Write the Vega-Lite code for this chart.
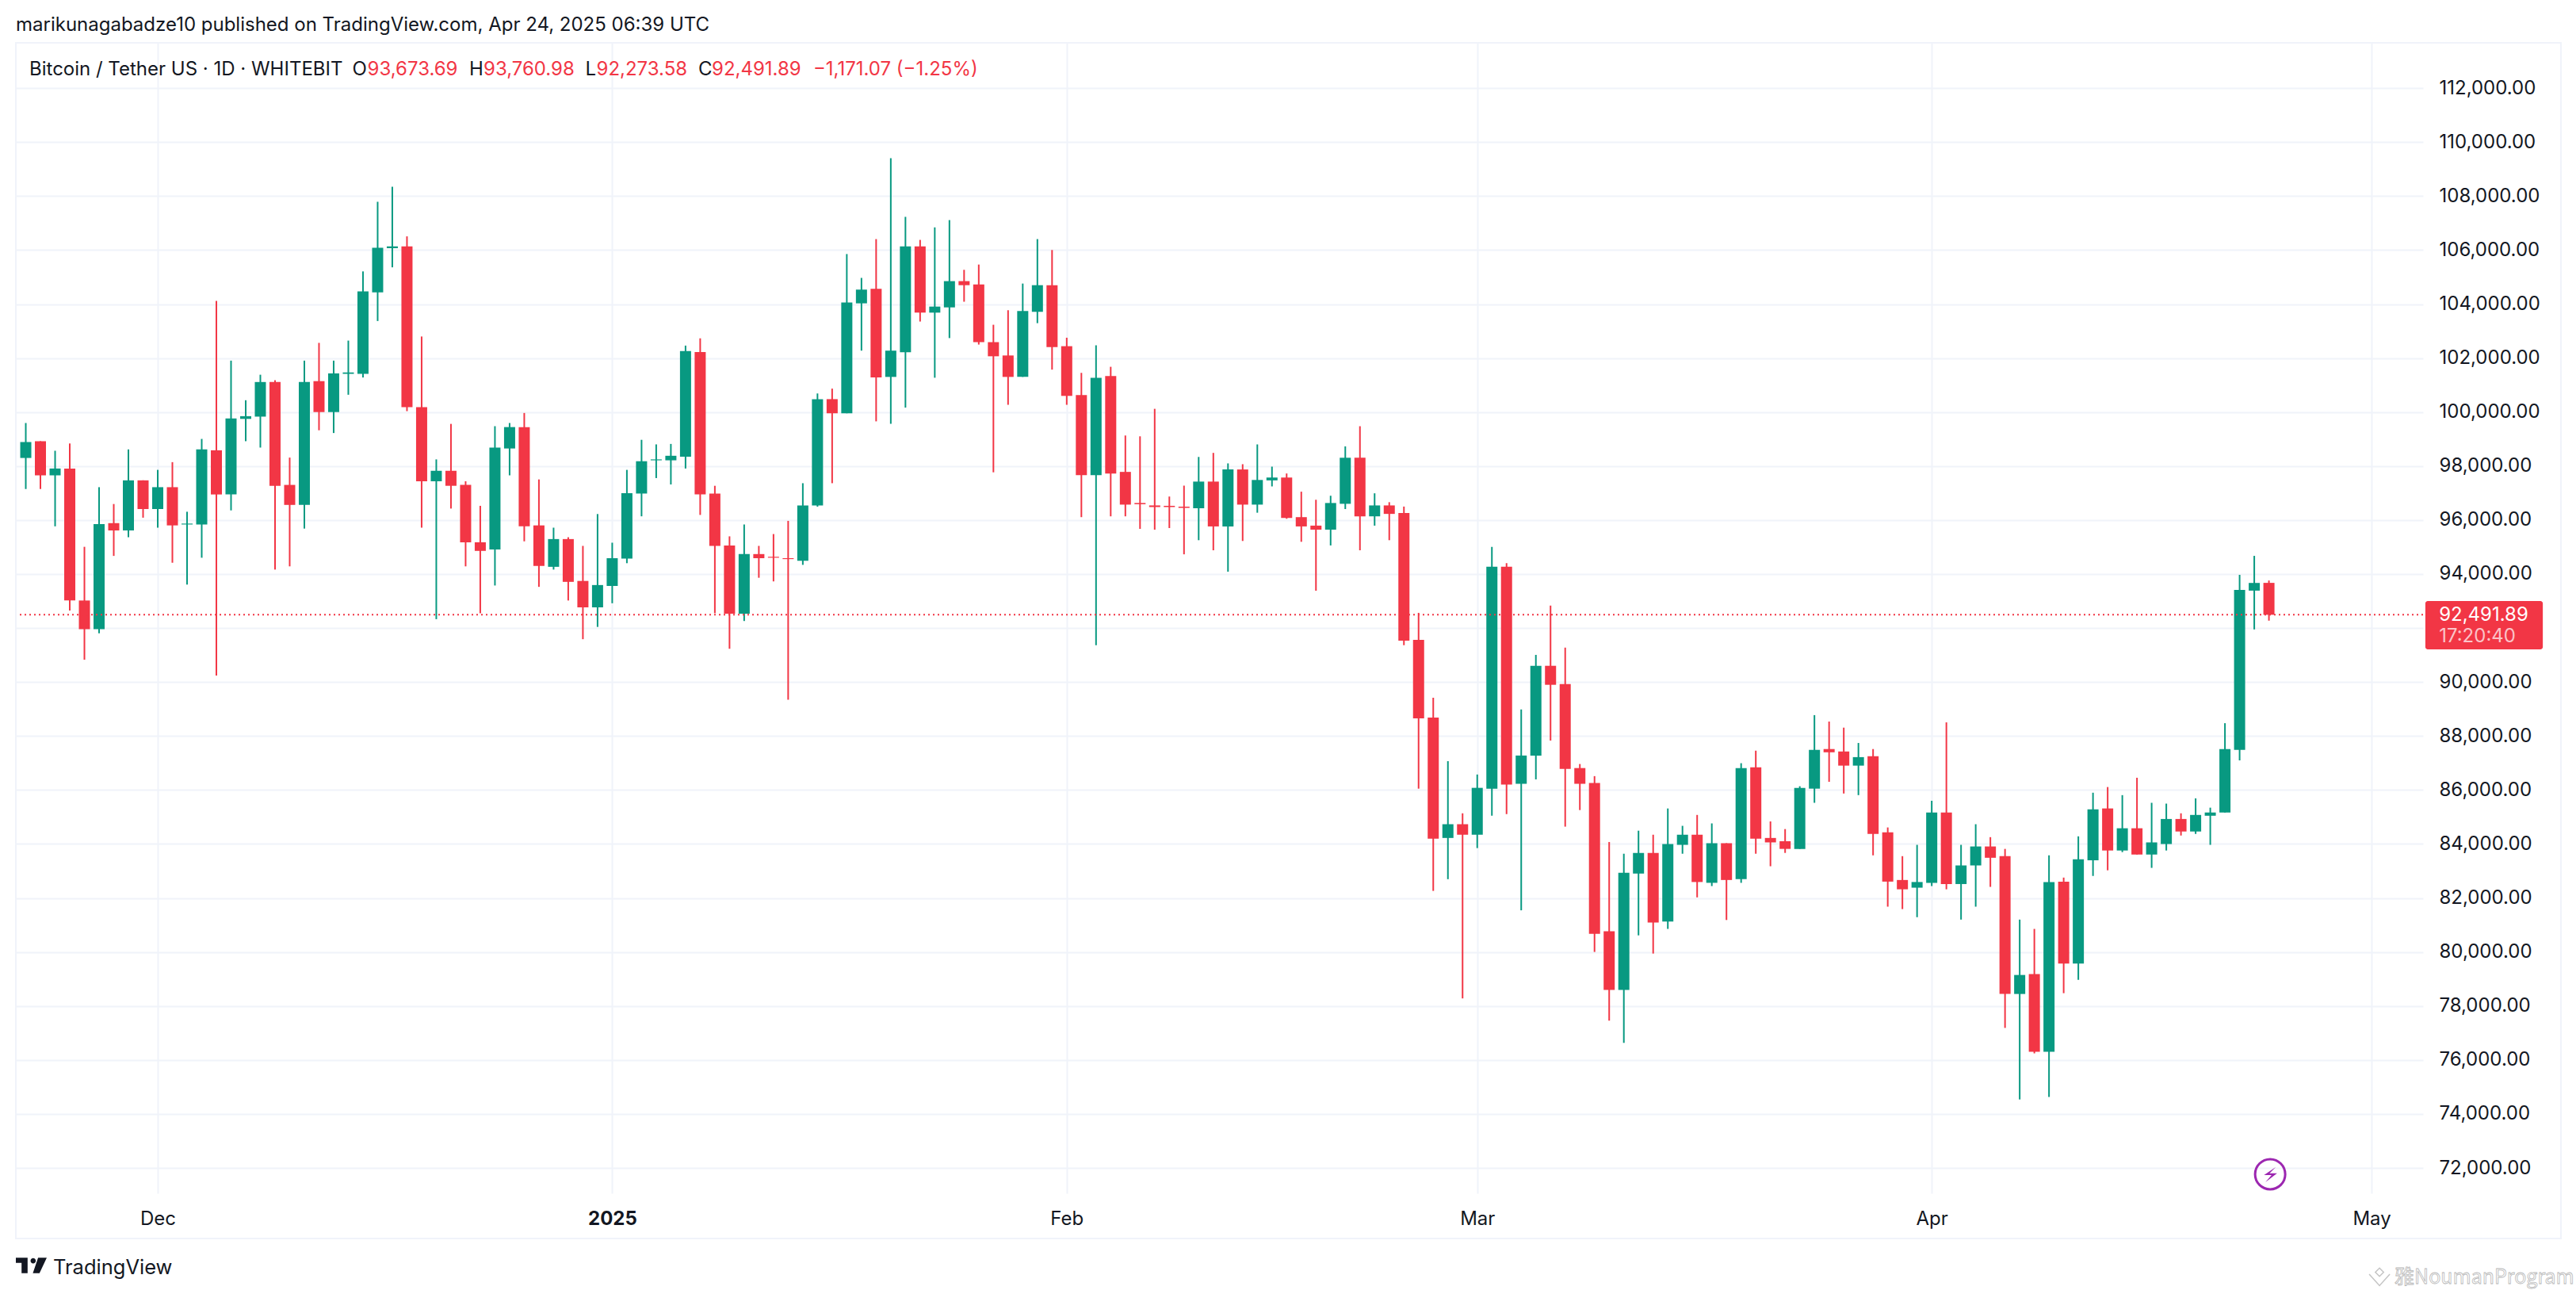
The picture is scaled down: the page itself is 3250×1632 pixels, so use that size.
{"$schema":"https://vega.github.io/schema/vega-lite/v6.json","width":3037,"height":1451,"autosize":{"type":"none"},"padding":{"left":20,"top":54,"right":193,"bottom":127},"background":"#ffffff","title":{"text":"marikunagabadze10 published on TradingView.com, Apr 24, 2025 06:39 UTC","anchor":"start","frame":"group","offset":9,"font":"Inter","fontSize":24,"fontWeight":400,"color":"#131722"},"config":{"view":{"stroke":null},"text":{"font":"Inter"}},"datasets":{"candles":[
{"d":"2024-11-22","o":98300,"h":99595,"l":97150,"c":98890},
{"d":"2024-11-23","o":98920,"h":98920,"l":97150,"c":97656},
{"d":"2024-11-24","o":97656,"h":98567,"l":95768,"c":97909},
{"d":"2024-11-25","o":97909,"h":98837,"l":92649,"c":93020},
{"d":"2024-11-26","o":93020,"h":95009,"l":90828,"c":91958},
{"d":"2024-11-27","o":91958,"h":97218,"l":91806,"c":95852},
{"d":"2024-11-28","o":95886,"h":96594,"l":94672,"c":95616},
{"d":"2024-11-29","o":95616,"h":98617,"l":95364,"c":97471},
{"d":"2024-11-30","o":97471,"h":97471,"l":96088,"c":96409},
{"d":"2024-12-01","o":96409,"h":97859,"l":95718,"c":97218},
{"d":"2024-12-02","o":97218,"h":98145,"l":94419,"c":95802},
{"d":"2024-12-03","o":95836,"h":96308,"l":93610,"c":95869},
{"d":"2024-12-04","o":95836,"h":99005,"l":94605,"c":98617},
{"d":"2024-12-05","o":98584,"h":104114,"l":90238,"c":96948},
{"d":"2024-12-06","o":96948,"h":101905,"l":96358,"c":99764},
{"d":"2024-12-07","o":99747,"h":100438,"l":98921,"c":99848},
{"d":"2024-12-08","o":99831,"h":101383,"l":98685,"c":101113},
{"d":"2024-12-09","o":101113,"h":101180,"l":94166,"c":97269},
{"d":"2024-12-10","o":97302,"h":98314,"l":94285,"c":96561},
{"d":"2024-12-11","o":96561,"h":101905,"l":95684,"c":101113},
{"d":"2024-12-12","o":101146,"h":102563,"l":99326,"c":100000},
{"d":"2024-12-13","o":100000,"h":101905,"l":99224,"c":101433},
{"d":"2024-12-14","o":101416,"h":102647,"l":100641,"c":101467},
{"d":"2024-12-15","o":101416,"h":105210,"l":101281,"c":104468},
{"d":"2024-12-16","o":104434,"h":107789,"l":103372,"c":106086},
{"d":"2024-12-17","o":106070,"h":108346,"l":105361,"c":106137},
{"d":"2024-12-18","o":106137,"h":106508,"l":100034,"c":100185},
{"d":"2024-12-19","o":100185,"h":102799,"l":95718,"c":97437},
{"d":"2024-12-20","o":97437,"h":98247,"l":92329,"c":97825},
{"d":"2024-12-21","o":97825,"h":99562,"l":96426,"c":97269},
{"d":"2024-12-22","o":97302,"h":97437,"l":94285,"c":95178},
{"d":"2024-12-23","o":95178,"h":96527,"l":92548,"c":94858},
{"d":"2024-12-24","o":94908,"h":99477,"l":93576,"c":98685},
{"d":"2024-12-25","o":98651,"h":99595,"l":97656,"c":99444},
{"d":"2024-12-26","o":99444,"h":99966,"l":95212,"c":95768},
{"d":"2024-12-27","o":95802,"h":97505,"l":93526,"c":94301},
{"d":"2024-12-28","o":94268,"h":95718,"l":94166,"c":95296},
{"d":"2024-12-29","o":95296,"h":95364,"l":93020,"c":93711},
{"d":"2024-12-30","o":93745,"h":95043,"l":91587,"c":92767},
{"d":"2024-12-31","o":92767,"h":96223,"l":92042,"c":93593},
{"d":"2025-01-01","o":93559,"h":95161,"l":92919,"c":94588},
{"d":"2025-01-02","o":94571,"h":97859,"l":94402,"c":96999},
{"d":"2025-01-03","o":96982,"h":98972,"l":96139,"c":98179},
{"d":"2025-01-04","o":98213,"h":98803,"l":97555,"c":98247},
{"d":"2025-01-05","o":98213,"h":98820,"l":97319,"c":98381},
{"d":"2025-01-06","o":98348,"h":102462,"l":97909,"c":102259},
{"d":"2025-01-07","o":102226,"h":102731,"l":96190,"c":96948},
{"d":"2025-01-08","o":96982,"h":97269,"l":92548,"c":95043},
{"d":"2025-01-09","o":95060,"h":95397,"l":91233,"c":92531},
{"d":"2025-01-10","o":92531,"h":95836,"l":92261,"c":94740},
{"d":"2025-01-11","o":94740,"h":95043,"l":93863,"c":94588},
{"d":"2025-01-12","o":94639,"h":95482,"l":93728,"c":94605},
{"d":"2025-01-13","o":94588,"h":95970,"l":89345,"c":94554},
{"d":"2025-01-14","o":94491,"h":97365,"l":94341,"c":96542},
{"d":"2025-01-15","o":96542,"h":100689,"l":96497,"c":100479},
{"d":"2025-01-16","o":100479,"h":100868,"l":97365,"c":99955},
{"d":"2025-01-17","o":99955,"h":105853,"l":99955,"c":104057},
{"d":"2025-01-18","o":104027,"h":104970,"l":102275,"c":104536},
{"d":"2025-01-19","o":104566,"h":106407,"l":99656,"c":101287},
{"d":"2025-01-20","o":101302,"h":109401,"l":99566,"c":102275},
{"d":"2025-01-21","o":102216,"h":107231,"l":100165,"c":106138},
{"d":"2025-01-22","o":106138,"h":106377,"l":103353,"c":103683},
{"d":"2025-01-23","o":103683,"h":106841,"l":101272,"c":103907},
{"d":"2025-01-24","o":103877,"h":107111,"l":102740,"c":104850},
{"d":"2025-01-25","o":104850,"h":105269,"l":104087,"c":104700},
{"d":"2025-01-26","o":104730,"h":105464,"l":102500,"c":102590},
{"d":"2025-01-27","o":102590,"h":103234,"l":97769,"c":102066},
{"d":"2025-01-28","o":102096,"h":103772,"l":100269,"c":101302},
{"d":"2025-01-29","o":101302,"h":104760,"l":101302,"c":103743},
{"d":"2025-01-30","o":103713,"h":106407,"l":103293,"c":104700},
{"d":"2025-01-31","o":104700,"h":106003,"l":101572,"c":102410},
{"d":"2025-02-01","o":102440,"h":102754,"l":100269,"c":100599},
{"d":"2025-02-02","o":100629,"h":101452,"l":96108,"c":97665},
{"d":"2025-02-03","o":97665,"h":102470,"l":91362,"c":101272},
{"d":"2025-02-04","o":101332,"h":101677,"l":96138,"c":97725},
{"d":"2025-02-05","o":97784,"h":99132,"l":96138,"c":96572},
{"d":"2025-02-06","o":96632,"h":99102,"l":95674,"c":96587},
{"d":"2025-02-07","o":96542,"h":100120,"l":95644,"c":96482},
{"d":"2025-02-08","o":96527,"h":96871,"l":95704,"c":96482},
{"d":"2025-02-09","o":96497,"h":97275,"l":94731,"c":96452},
{"d":"2025-02-10","o":96437,"h":98338,"l":95254,"c":97425},
{"d":"2025-02-11","o":97425,"h":98488,"l":94880,"c":95764},
{"d":"2025-02-12","o":95764,"h":98099,"l":94087,"c":97874},
{"d":"2025-02-13","o":97874,"h":98069,"l":95225,"c":96572},
{"d":"2025-02-14","o":96572,"h":98802,"l":96272,"c":97485},
{"d":"2025-02-15","o":97470,"h":97979,"l":97246,"c":97575},
{"d":"2025-02-16","o":97575,"h":97725,"l":96048,"c":96078},
{"d":"2025-02-17","o":96108,"h":97051,"l":95195,"c":95764},
{"d":"2025-02-18","o":95794,"h":96752,"l":93383,"c":95644},
{"d":"2025-02-19","o":95644,"h":96901,"l":95060,"c":96632},
{"d":"2025-02-20","o":96602,"h":98728,"l":96407,"c":98308},
{"d":"2025-02-21","o":98308,"h":99476,"l":94880,"c":96138},
{"d":"2025-02-22","o":96138,"h":96991,"l":95793,"c":96542},
{"d":"2025-02-23","o":96542,"h":96662,"l":95254,"c":96228},
{"d":"2025-02-24","o":96260,"h":96500,"l":91365,"c":91530},
{"d":"2025-02-25","o":91560,"h":92563,"l":86051,"c":88656},
{"d":"2025-02-26","o":88686,"h":89419,"l":82264,"c":84195},
{"d":"2025-02-27","o":84225,"h":87069,"l":82698,"c":84734},
{"d":"2025-02-28","o":84734,"h":85138,"l":78282,"c":84345},
{"d":"2025-03-01","o":84345,"h":86575,"l":83850,"c":86081},
{"d":"2025-03-02","o":86051,"h":95003,"l":85048,"c":94269},
{"d":"2025-03-03","o":94269,"h":94404,"l":85108,"c":86201},
{"d":"2025-03-04","o":86231,"h":88985,"l":81545,"c":87278},
{"d":"2025-03-05","o":87278,"h":91006,"l":86395,"c":90602},
{"d":"2025-03-06","o":90602,"h":92832,"l":87832,"c":89898},
{"d":"2025-03-07","o":89928,"h":91275,"l":84644,"c":86785},
{"d":"2025-03-08","o":86814,"h":86964,"l":85258,"c":86231},
{"d":"2025-03-09","o":86261,"h":86515,"l":80003,"c":80677},
{"d":"2025-03-10","o":80766,"h":84075,"l":77458,"c":78596},
{"d":"2025-03-11","o":78596,"h":83641,"l":76635,"c":82937},
{"d":"2025-03-12","o":82907,"h":84494,"l":80617,"c":83671},
{"d":"2025-03-13","o":83671,"h":84345,"l":79943,"c":81096},
{"d":"2025-03-14","o":81126,"h":85317,"l":80856,"c":84000},
{"d":"2025-03-15","o":83970,"h":84674,"l":83641,"c":84345},
{"d":"2025-03-16","o":84345,"h":85078,"l":82024,"c":82593},
{"d":"2025-03-17","o":82563,"h":84764,"l":82443,"c":84030},
{"d":"2025-03-18","o":84030,"h":84030,"l":81186,"c":82668},
{"d":"2025-03-19","o":82698,"h":86994,"l":82563,"c":86814},
{"d":"2025-03-20","o":86844,"h":87458,"l":83641,"c":84195},
{"d":"2025-03-21","o":84225,"h":84838,"l":83177,"c":84060},
{"d":"2025-03-22","o":84105,"h":84554,"l":83671,"c":83820},
{"d":"2025-03-23","o":83820,"h":86141,"l":83820,"c":86081},
{"d":"2025-03-24","o":86051,"h":88775,"l":85527,"c":87488},
{"d":"2025-03-25","o":87518,"h":88536,"l":86305,"c":87398},
{"d":"2025-03-26","o":87428,"h":88311,"l":85871,"c":86904},
{"d":"2025-03-27","o":86904,"h":87743,"l":85811,"c":87219},
{"d":"2025-03-28","o":87249,"h":87518,"l":83581,"c":84375},
{"d":"2025-03-29","o":84434,"h":84614,"l":81680,"c":82608},
{"d":"2025-03-30","o":82668,"h":83551,"l":81590,"c":82323},
{"d":"2025-03-31","o":82383,"h":83970,"l":81290,"c":82593},
{"d":"2025-04-01","o":82563,"h":85602,"l":82443,"c":85168},
{"d":"2025-04-02","o":85168,"h":88506,"l":82323,"c":82518},
{"d":"2025-04-03","o":82518,"h":83970,"l":81201,"c":83207},
{"d":"2025-04-04","o":83207,"h":84734,"l":81680,"c":83910},
{"d":"2025-04-05","o":83910,"h":84255,"l":82413,"c":83491},
{"d":"2025-04-06","o":83551,"h":83820,"l":77189,"c":78446},
{"d":"2025-04-07","o":78446,"h":81201,"l":74539,"c":79150},
{"d":"2025-04-08","o":79180,"h":80856,"l":76246,"c":76306},
{"d":"2025-04-09","o":76306,"h":83581,"l":74629,"c":82593},
{"d":"2025-04-10","o":82608,"h":82757,"l":78476,"c":79569},
{"d":"2025-04-11","o":79569,"h":84285,"l":78970,"c":83431},
{"d":"2025-04-12","o":83401,"h":85901,"l":82818,"c":85288},
{"d":"2025-04-13","o":85318,"h":86111,"l":83027,"c":83760},
{"d":"2025-04-14","o":83760,"h":85811,"l":83700,"c":84584},
{"d":"2025-04-15","o":84584,"h":86455,"l":83611,"c":83611},
{"d":"2025-04-16","o":83611,"h":85527,"l":83117,"c":84060},
{"d":"2025-04-17","o":84000,"h":85497,"l":83760,"c":84928},
{"d":"2025-04-18","o":84928,"h":85138,"l":84315,"c":84464},
{"d":"2025-04-19","o":84464,"h":85692,"l":84374,"c":85078},
{"d":"2025-04-20","o":85048,"h":85347,"l":83970,"c":85168},
{"d":"2025-04-21","o":85168,"h":88476,"l":85168,"c":87518},
{"d":"2025-04-22","o":87488,"h":93970,"l":87099,"c":93416},
{"d":"2025-04-23","o":93386,"h":94674,"l":91949,"c":93671},
{"d":"2025-04-24","o":93673.69,"h":93760.98,"l":92273.58,"c":92491.89}
]},"layer":[
{"data":{"name":"candles"},"mark":{"type":"rule","strokeWidth":2},"encoding":{"x":{"field":"d","type":"temporal","scale":{"type":"utc","padding":0,"domain":[{"year":2024,"month":11,"date":21,"hours":7,"minutes":45,"utc":true},{"year":2025,"month":5,"date":4,"hours":12,"minutes":15,"utc":true}]},"title":null,"axis":{"title":null,"values":[{"year":2024,"month":12,"date":1,"utc":true},{"year":2025,"month":1,"date":1,"utc":true},{"year":2025,"month":2,"date":1,"utc":true},{"year":2025,"month":3,"date":1,"utc":true},{"year":2025,"month":4,"date":1,"utc":true},{"year":2025,"month":5,"date":1,"utc":true}],"labelExpr":"utcmonth(datum.value)===0?'2025':utcFormat(datum.value,'%b')","labelFontWeight":{"condition":{"test":"utcmonth(datum.value)===0","value":"bold"},"value":"normal"},"labelFont":"Inter","labelFontSize":24,"labelColor":"#131722","labelPadding":20,"tickSize":0,"domain":false,"grid":true,"gridColor":"#f0f3fa","gridWidth":2,"labelFlush":false,"labelOverlap":false}},"y":{"field":"l","type":"quantitative","scale":{"domain":[71063,113677],"zero":false,"nice":false},"title":null,"axis":{"title":null,"orient":"right","values":[72000,74000,76000,78000,80000,82000,84000,86000,88000,90000,92000,94000,96000,98000,100000,102000,104000,106000,108000,110000,112000],"labelExpr":"datum.value===92000?'':format(datum.value,',.2f')","labelFont":"Inter","labelFontSize":24,"labelColor":"#131722","labelPadding":20,"tickSize":0,"domain":false,"grid":true,"gridColor":"#f0f3fa","gridWidth":2,"labelOverlap":false}},"y2":{"field":"h"},"color":{"condition":{"test":"datum.c>=datum.o","value":"#089981"},"value":"#f23645"}}},
{"data":{"name":"candles"},"mark":{"type":"bar","width":14},"encoding":{"x":{"field":"d","type":"temporal","title":null},"y":{"field":"o","type":"quantitative","title":null},"y2":{"field":"c"},"color":{"condition":{"test":"datum.c>=datum.o","value":"#089981"},"value":"#f23645"}}},
{"data":{"values":[{"last":92491.89}]},"mark":{"type":"rule","color":"#f23645","strokeWidth":2,"strokeDash":[2,4]},"encoding":{"y":{"field":"last","type":"quantitative","title":null}}},
{"data":{"values":[{"label":"frame"}]},"mark":{"type":"rect","fill":null,"stroke":"#f0f3fa","strokeWidth":2},"encoding":{"x":{"datum":{"year":2024,"month":11,"date":21,"hours":7,"minutes":45,"utc":true},"type":"temporal","title":null},"x2":{"datum":{"year":2025,"month":5,"date":13,"hours":22,"utc":true}},"y":{"datum":113677,"type":"quantitative","title":null},"y2":{"datum":69389}}},
{"data":{"values":[{"label":"last price box"}]},"mark":{"type":"rect","color":"#f23645","cornerRadius":3},"encoding":{"x":{"datum":{"year":2025,"month":5,"date":4,"hours":16,"minutes":5,"utc":true},"type":"temporal","title":null},"x2":{"datum":{"year":2025,"month":5,"date":12,"hours":16,"minutes":20,"utc":true}},"y":{"datum":93001,"type":"quantitative","title":null},"y2":{"datum":91210}}},
{"data":{"values":[{"label":"92,491.89"}]},"mark":{"type":"text","align":"left","baseline":"middle","fontSize":24,"color":"#ffffff"},"encoding":{"text":{"field":"label"},"x":{"datum":{"year":2025,"month":5,"date":5,"hours":14,"minutes":24,"utc":true},"type":"temporal","title":null},"y":{"datum":92475,"type":"quantitative","title":null}}},
{"data":{"values":[{"label":"17:20:40"}]},"mark":{"type":"text","align":"left","baseline":"middle","fontSize":24,"color":"#fbc3c8"},"encoding":{"text":{"field":"label"},"x":{"datum":{"year":2025,"month":5,"date":5,"hours":14,"minutes":24,"utc":true},"type":"temporal","title":null},"y":{"datum":91667,"type":"quantitative","title":null}}},
{"data":{"values":[{"label":"Bitcoin / Tether US · 1D · WHITEBIT"}]},"mark":{"type":"text","align":"left","baseline":"middle","fontSize":24,"color":"#131722"},"encoding":{"text":{"field":"label"},"x":{"datum":{"year":2024,"month":11,"date":22,"hours":5,"minutes":48,"utc":true},"type":"temporal","title":null},"y":{"datum":112680,"type":"quantitative","title":null}}},
{"data":{"values":[{"label":"O"}]},"mark":{"type":"text","align":"left","baseline":"middle","fontSize":24,"color":"#131722"},"encoding":{"text":{"field":"label"},"x":{"datum":{"year":2024,"month":12,"date":14,"hours":6,"minutes":32,"utc":true},"type":"temporal","title":null},"y":{"datum":112680,"type":"quantitative","title":null}}},
{"data":{"values":[{"label":"93,673.69"}]},"mark":{"type":"text","align":"left","baseline":"middle","fontSize":24,"color":"#f23645"},"encoding":{"text":{"field":"label"},"x":{"datum":{"year":2024,"month":12,"date":15,"hours":7,"minutes":19,"utc":true},"type":"temporal","title":null},"y":{"datum":112680,"type":"quantitative","title":null}}},
{"data":{"values":[{"label":"H"}]},"mark":{"type":"text","align":"left","baseline":"middle","fontSize":24,"color":"#131722"},"encoding":{"text":{"field":"label"},"x":{"datum":{"year":2024,"month":12,"date":22,"hours":5,"minutes":56,"utc":true},"type":"temporal","title":null},"y":{"datum":112680,"type":"quantitative","title":null}}},
{"data":{"values":[{"label":"93,760.98"}]},"mark":{"type":"text","align":"left","baseline":"middle","fontSize":24,"color":"#f23645"},"encoding":{"text":{"field":"label"},"x":{"datum":{"year":2024,"month":12,"date":23,"hours":5,"minutes":17,"utc":true},"type":"temporal","title":null},"y":{"datum":112680,"type":"quantitative","title":null}}},
{"data":{"values":[{"label":"L"}]},"mark":{"type":"text","align":"left","baseline":"middle","fontSize":24,"color":"#131722"},"encoding":{"text":{"field":"label"},"x":{"datum":{"year":2024,"month":12,"date":30,"hours":4,"utc":true},"type":"temporal","title":null},"y":{"datum":112680,"type":"quantitative","title":null}}},
{"data":{"values":[{"label":"92,273.58"}]},"mark":{"type":"text","align":"left","baseline":"middle","fontSize":24,"color":"#f23645"},"encoding":{"text":{"field":"label"},"x":{"datum":{"year":2024,"month":12,"date":30,"hours":22,"minutes":11,"utc":true},"type":"temporal","title":null},"y":{"datum":112680,"type":"quantitative","title":null}}},
{"data":{"values":[{"label":"C"}]},"mark":{"type":"text","align":"left","baseline":"middle","fontSize":24,"color":"#131722"},"encoding":{"text":{"field":"label"},"x":{"datum":{"year":2025,"month":1,"date":6,"hours":20,"minutes":53,"utc":true},"type":"temporal","title":null},"y":{"datum":112680,"type":"quantitative","title":null}}},
{"data":{"values":[{"label":"92,491.89"}]},"mark":{"type":"text","align":"left","baseline":"middle","fontSize":24,"color":"#f23645"},"encoding":{"text":{"field":"label"},"x":{"datum":{"year":2025,"month":1,"date":7,"hours":18,"minutes":58,"utc":true},"type":"temporal","title":null},"y":{"datum":112680,"type":"quantitative","title":null}}},
{"data":{"values":[{"label":"−1,171.07 (−1.25%)"}]},"mark":{"type":"text","align":"left","baseline":"middle","fontSize":24,"color":"#f23645"},"encoding":{"text":{"field":"label"},"x":{"datum":{"year":2025,"month":1,"date":14,"hours":17,"utc":true},"type":"temporal","title":null},"y":{"datum":112680,"type":"quantitative","title":null}}},
{"data":{"values":[{"label":"TradingView"}]},"mark":{"type":"text","align":"left","baseline":"middle","fontSize":25.5,"color":"#131722"},"encoding":{"text":{"field":"label"},"x":{"datum":{"year":2024,"month":11,"date":23,"hours":20,"minutes":44,"utc":true},"type":"temporal","title":null},"y":{"datum":68290,"type":"quantitative","title":null}}},
{"data":{"values":[{"label":"logo"}]},"mark":{"type":"point","filled":true,"opacity":1,"color":"#131722","size":1521,"shape":"M-1 -.5L-.24 -.5L-.24 .5L-.63 .5L-.63 -.16L-1 -.16ZM-.05 -.3A.17 .17 0 1 0 .29 -.3A.17 .17 0 1 0 -.05 -.3ZM.44 -.5L1 -.5L.53 .5L.1 .5Z"},"encoding":{"x":{"datum":{"year":2024,"month":11,"date":22,"hours":9,"minutes":3,"utc":true},"type":"temporal","title":null},"y":{"datum":68391,"type":"quantitative","title":null}}},
{"data":{"values":[{"label":"alert ring"}]},"mark":{"type":"point","shape":"circle","filled":false,"opacity":1,"color":"#9c27b0","strokeWidth":3,"size":1444},"encoding":{"x":{"datum":{"year":2025,"month":4,"date":24,"hours":2,"utc":true},"type":"temporal","title":null},"y":{"datum":71768,"type":"quantitative","title":null}}},
{"data":{"values":[{"label":"alert bolt"}]},"mark":{"type":"point","filled":true,"opacity":1,"color":"#9c27b0","size":424,"shape":"M.68 -.87L-.75 .1L.17 .1L-.58 .97L.85 -.13L-.07 -.13Z"},"encoding":{"x":{"datum":{"year":2025,"month":4,"date":24,"hours":2,"utc":true},"type":"temporal","title":null},"y":{"datum":71768,"type":"quantitative","title":null}}},
{"data":{"values":[{"label":"watermark mark"}]},"mark":{"type":"point","filled":false,"opacity":1,"color":"#c4c4c4","strokeWidth":1.5,"size":676,"shape":"M0 -.9L.4 -.5L0 -.1L-.4 -.5ZM-1 -.3L0 .8L1 -.3"},"encoding":{"x":{"datum":{"year":2025,"month":5,"date":1,"hours":13,"utc":true},"type":"temporal","title":null},"y":{"datum":67950,"type":"quantitative","title":null}}},
{"data":{"values":[{"label":"雅NoumanProgram"}]},"mark":{"type":"text","align":"left","baseline":"middle","fontSize":25,"font":"Noto Sans CJK SC","fill":"#ffffff","stroke":"#b8b8b8","strokeWidth":0.8},"encoding":{"text":{"field":"label"},"x":{"datum":{"year":2025,"month":5,"date":2,"hours":13,"minutes":40,"utc":true},"type":"temporal","title":null},"y":{"datum":67950,"type":"quantitative","title":null}}}
]}
